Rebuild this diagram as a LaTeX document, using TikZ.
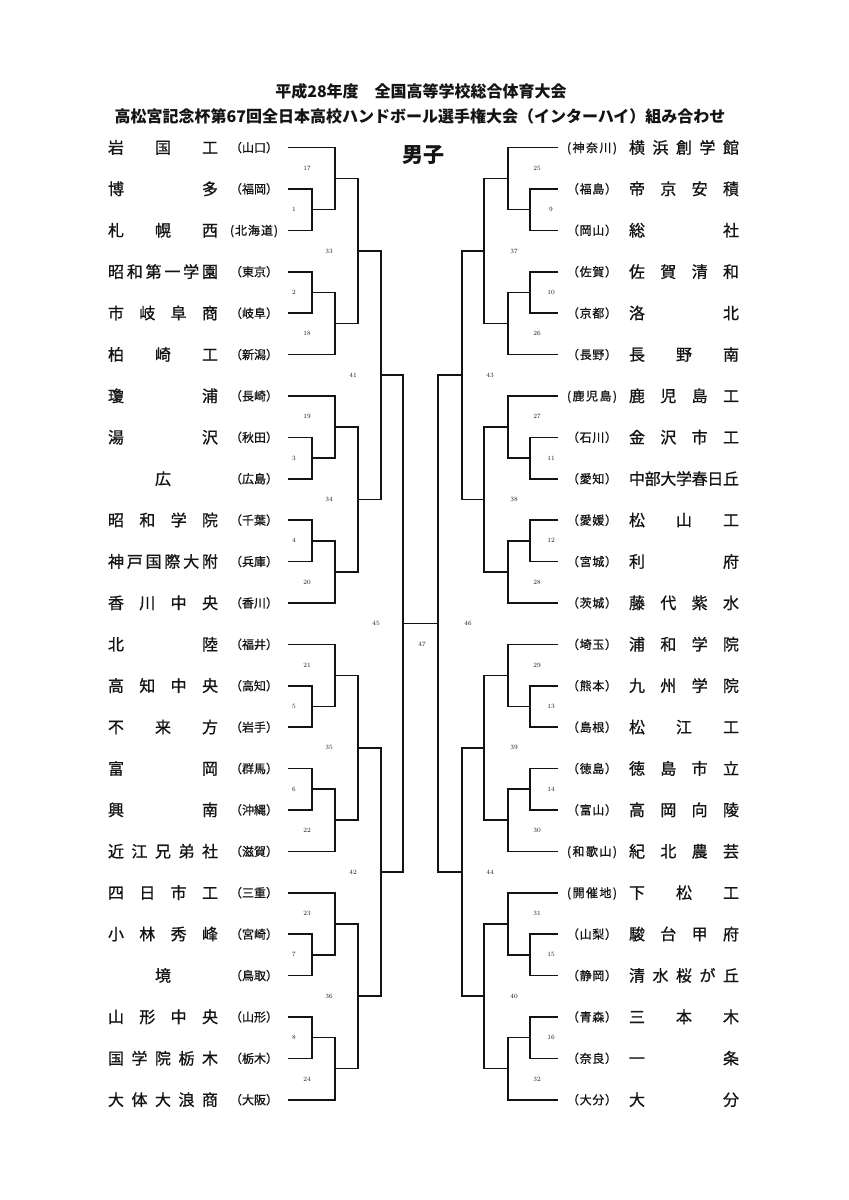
\documentclass[tikz,border=0pt]{standalone}
\usepackage{fontspec}
\newfontfamily\jpfont{Noto Sans CJK JP}
\newfontfamily\jpheavy{Noto Sans CJK JP}[FakeBold=0.9]
\usepackage{xcolor}
\definecolor{ink}{HTML}{141414}

% spread the characters of a name over a fixed width
\newcommand\spreadstop{}
\def\spreadbox#1#2{\hbox to #1{\expandafter\spreadstep#2\spreadstop}}
\def\spreadstep#1#2{#1\ifx#2\spreadstop\else\hss\expandafter\spreadstep\expandafter#2\fi}

\tikzset{
  every node/.style={text=ink,inner sep=0pt},
  teamname/.style={font=\jpheavy\fontsize{16}{16}\selectfont,text height=14pt,text depth=2pt},
  prefname/.style={font=\jpheavy\fontsize{12}{12}\selectfont,text height=10.6pt,text depth=1.4pt},
  matchno/.style={font=\fontsize{6.5}{6.5}\selectfont},
  heading/.style={font=\jpfont\bfseries\fontsize{16}{16}\selectfont},
  bracket/.style={draw=ink,line width=1.6pt},
}

\begin{document}
\begin{tikzpicture}[x=1pt,y=-1pt,declare function={ry(\r)=147.5+41.4*\r;}]
  \useasboundingbox (0,0) rectangle (849,1200);

  \node[heading] (title1) at (421,91) {平成28年度　全国高等学校総合体育大会};
  \node[heading] (title2) at (420,116) {高松宮記念杯第67回全日本高校ハンドボール選手権大会（インターハイ）組み合わせ};
  \node[heading,font=\jpfont\bfseries\fontsize{21}{21}\selectfont] (boys) at (423,155) {男子};

  % left half
  \foreach \nm/\pf [count=\i from 0] in {岩国工/（山口）, 博多/（福岡）, 札幌西/(北海道), 昭和第一学園/（東京）,
      市岐阜商/（岐阜）, 柏崎工/（新潟）, 瓊浦/（長崎）, 湯沢/（秋田）, \hss 広\hss/（広島）, 昭和学院/（千葉）,
      神戸国際大附/（兵庫）, 香川中央/（香川）, 北陸/（福井）, 高知中央/（高知）, 不来方/（岩手）, 富岡/（群馬）,
      興南/（沖縄）, 近江兄弟社/（滋賀）, 四日市工/（三重）, 小林秀峰/（宮崎）, \hss 境\hss/（鳥取）,
      山形中央/（山形）, 国学院栃木/（栃木）, 大体大浪商/（大阪）} {
    \node[teamname] (nameL\i) at (163,{ry(\i)}) {\spreadbox{110pt}{\nm}};
    \node[prefname] (prefL\i) at (254,{ry(\i)}) {\spreadbox{48pt}{\pf}};
    \coordinate (tL\i) at (288,{ry(\i)});
  }

  % right half
  \foreach \pf/\nm [count=\i from 0] in {(神奈川)/横浜創学館, （福島）/帝京安積, （岡山）/総社, （佐賀）/佐賀清和,
      （京都）/洛北, （長野）/長野南, (鹿児島)/鹿児島工, （石川）/金沢市工, （愛知）/中部大学春日丘, （愛媛）/松山工,
      （宮城）/利府, （茨城）/藤代紫水, （埼玉）/浦和学院, （熊本）/九州学院, （島根）/松江工, （徳島）/徳島市立,
      （富山）/高岡向陵, (和歌山)/紀北農芸, (開催地)/下松工, （山梨）/駿台甲府, （静岡）/清水桜が丘,
      （青森）/三本木, （奈良）/一条, （大分）/大分} {
    \node[prefname] (prefR\i) at (592,{ry(\i)}) {\spreadbox{50pt}{\pf}};
    \node[teamname] (nameR\i) at (684,{ry(\i)}) {\spreadbox{110pt}{\nm}};
    \coordinate (tR\i) at (558,{ry(\i)});
  }

  % first two rounds, blocks of three teams
  \foreach \s/\xi/\xo/\li/\lo/\din/\dout in {L/312/335/294/307/1/17, R/530/508/551/537/9/25} {
    \foreach \k in {0,...,7} {
      \pgfmathtruncatemacro\r{3*\k}
      \pgfmathtruncatemacro\ra{\r+1}
      \pgfmathtruncatemacro\rb{\r+2}
      \pgfmathtruncatemacro\inn{\k+\din}
      \pgfmathtruncatemacro\out{\k+\dout}
      \ifodd\k
        \coordinate (m\inn) at (\xi,{ry(\r+0.5)});
        \coordinate (m\out) at (\xo,{ry(\r+1.25)});
        \draw[bracket] (t\s\r) -| (m\inn) |- (t\s\ra);
        \draw[bracket] (m\inn) -| (m\out) |- (t\s\rb);
        \node[matchno] (no\inn) at (\li,{ry(\r+0.5)}) {\inn};
        \node[matchno] (no\out) at (\lo,{ry(\r+1.5)}) {\out};
      \else
        \coordinate (m\inn) at (\xi,{ry(\r+1.5)});
        \coordinate (m\out) at (\xo,{ry(\r+0.75)});
        \draw[bracket] (t\s\ra) -| (m\inn) |- (t\s\rb);
        \draw[bracket] (t\s\r) -| (m\out) |- (m\inn);
        \node[matchno] (no\inn) at (\li,{ry(\r+1.5)}) {\inn};
        \node[matchno] (no\out) at (\lo,{ry(\r+0.5)}) {\out};
      \fi
    }
  }

  % third round
  \foreach \x/\lx/\first/\top in {358/329/33/17, 484/514/37/25} {
    \foreach \j in {0,...,3} {
      \pgfmathtruncatemacro\m{\first+\j}
      \pgfmathtruncatemacro\a{\top+2*\j}
      \pgfmathtruncatemacro\b{\a+1}
      \coordinate (m\m) at (\x,{ry(6*\j+2.5)});
      \draw[bracket] (m\a) -| (m\m) |- (m\b);
      \node[matchno] (no\m) at (\lx,{ry(6*\j+2.5)}) {\m};
    }
  }

  % fourth round
  \foreach \x/\lx/\first/\top in {381/353/41/33, 462/490/43/37} {
    \foreach \j in {0,1} {
      \pgfmathtruncatemacro\m{\first+\j}
      \pgfmathtruncatemacro\a{\top+2*\j}
      \pgfmathtruncatemacro\b{\a+1}
      \coordinate (m\m) at (\x,{ry(12*\j+5.5)});
      \draw[bracket] (m\a) -| (m\m) |- (m\b);
      \node[matchno] (no\m) at (\lx,{ry(12*\j+5.5)}) {\m};
    }
  }

  % semi-finals and final
  \coordinate (m45) at (403,{ry(11.5)});
  \coordinate (m46) at (438,{ry(11.5)});
  \draw[bracket] (m41) -| (m45) |- (m42);
  \draw[bracket] (m43) -| (m46) |- (m44);
  \draw[bracket] (m45) -- (m46);
  \node[matchno] (no45) at (376,{ry(11.5)}) {45};
  \node[matchno] (no46) at (468,{ry(11.5)}) {46};
  \node[matchno] (no47) at (422,{ry(12)}) {47};
\end{tikzpicture}
\end{document}
